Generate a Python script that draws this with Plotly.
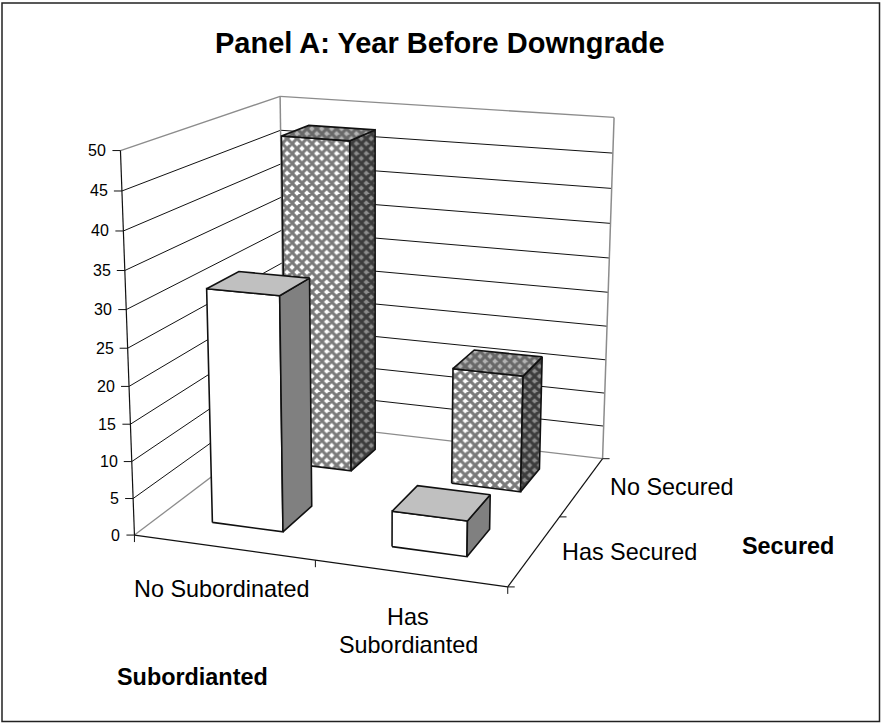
import numpy as np
import plotly.graph_objects as go

# Chart content
title_text = "Panel A: Year Before Downgrade"
subordinated_labels = [["No Subordinated"], ["Has", "Subordianted"]]
secured_labels = ["Has Secured", "No Secured"]
axis_title_x = "Subordianted"
axis_title_y = "Secured"
value_ticks = [0, 5, 10, 15, 20, 25, 30, 35, 40, 45, 50]
has_secured_values = [31.6, 4.8]
no_secured_values = [47.3, 16.7]

VALUE_MAX = 50
BAR_HALF_U = 0.10
BAR_HALF_V = 0.10

# Perspective camera: known box corners (u, v, w) -> canvas pixels
camera_anchors = [
    ((0, 0, 0), (135.0, 534.0)),
    ((1, 0, 0), (507.3, 588.3)),
    ((0, 1, 0), (284.0, 423.0)),
    ((1, 1, 0), (603.0, 457.0)),
    ((0, 0, 1), (120.3, 150.3)),
    ((0, 1, 1), (280.3, 96.0)),
    ((1, 1, 1), (614.0, 118.0)),
]


def solve_camera(anchors):
    rows, rhs = [], []
    for (u, v, w), (px, py) in anchors:
        rows.append([u, v, w, 1, 0, 0, 0, 0, -px * u, -px * v, -px * w])
        rhs.append(px)
        rows.append([0, 0, 0, 0, u, v, w, 1, -py * u, -py * v, -py * w])
        rhs.append(py)
    sol = np.linalg.lstsq(np.array(rows, float), np.array(rhs, float), rcond=None)[0]
    return np.append(sol, 1.0).reshape(3, 4)


CAMERA = solve_camera(camera_anchors)


def project(u, v, value):
    p = CAMERA @ np.array([u, v, value / VALUE_MAX, 1.0])
    return p[0] / p[2], p[1] / p[2]


fig = go.Figure()

BLACK = "#111111"
GREY = "#8c8c8c"


def add_line(a, b, color=BLACK, width=1.0):
    fig.add_trace(go.Scatter(
        x=[a[0], b[0]], y=[a[1], b[1]], mode="lines",
        line=dict(color=color, width=width), hoverinfo="skip", showlegend=False))


def add_face(points, fill, pattern=None):
    xs = [p[0] for p in points] + [points[0][0]]
    ys = [p[1] for p in points] + [points[0][1]]
    kwargs = dict(fillcolor=fill)
    if pattern:
        kwargs["fillpattern"] = pattern
    fig.add_trace(go.Scatter(
        x=xs, y=ys, mode="lines", fill="toself",
        line=dict(color=BLACK, width=1.6), hoverinfo="skip", showlegend=False, **kwargs))


def add_bar(u_c, v_c, value, faces):
    u0, u1 = u_c - BAR_HALF_U, u_c + BAR_HALF_U
    v0, v1 = v_c - BAR_HALF_V, v_c + BAR_HALF_V
    front = [project(u0, v0, 0), project(u1, v0, 0), project(u1, v0, value), project(u0, v0, value)]
    side = [project(u1, v0, 0), project(u1, v1, 0), project(u1, v1, value), project(u1, v0, value)]
    top = [project(u0, v0, value), project(u1, v0, value), project(u1, v1, value), project(u0, v1, value)]
    for pts, style in zip((front, side, top), faces):
        add_face(pts, *style)


# Walls: value gridlines on left and back planes
for t in value_ticks:
    edge = t == 0 or t == VALUE_MAX
    color = GREY if edge else BLACK
    add_line(project(0, 0, t), project(0, 1, t), color, 1.3 if edge else 1.0)
    add_line(project(0, 1, t), project(1, 1, t), color, 1.3 if edge else 1.0)
add_line(project(0, 1, 0), project(0, 1, VALUE_MAX), GREY, 1.5)
add_line(project(1, 1, 0), project(1, 1, VALUE_MAX), GREY, 1.5)

# Axis lines and ticks
add_line(project(0, 0, 0), project(0, 0, VALUE_MAX), BLACK, 1.2)
add_line(project(0, 0, 0), project(1, 0, 0), BLACK, 1.2)
add_line(project(1, 0, 0), project(1, 1, 0), BLACK, 1.2)
for t in value_ticks:
    px, py = project(0, 0, t)
    add_line((px - 8, py), (px, py), BLACK, 1.0)
for u in (0, 0.5, 1):
    px, py = project(u, 0, 0)
    add_line((px, py), (px, py + 7), BLACK, 1.0)
for v in (0, 0.5, 1):
    px, py = project(1, v, 0)
    add_line((px, py), (px + 7, py), BLACK, 1.0)

# Bars, back row first so the front row overlaps it
cross = lambda fg, bg: dict(shape="x", size=7, solidity=0.68, fgcolor=fg, bgcolor=bg, fillmode="replace")
hatched_faces = (
    ("#ffffff", cross("#7a7a7a", "#ffffff")),
    ("#808080", cross("#3c3c3c", "#8c8c8c")),
    ("#c0c0c0", cross("#686868", "#b4b4b4")),
)
plain_faces = (("#ffffff",), ("#808080",), ("#c0c0c0",))
for i, value in enumerate(no_secured_values):
    add_bar(0.25 + 0.5 * i, 0.75, value, hatched_faces)
for i, value in enumerate(has_secured_values):
    add_bar(0.25 + 0.5 * i, 0.25, value, plain_faces)

FONT = "Liberation Sans, Arial, sans-serif"
LABEL_SIZE = 23.4
annotations = [dict(x=440, y=43, text=f"<b>{title_text}</b>", font=dict(size=29))]
for t in value_ticks:
    px, py = project(0, 0, t)
    annotations.append(dict(x=px - 12, y=py, text=str(t), xanchor="right", font=dict(size=16)))
annotations += [
    dict(x=222, y=589, text=subordinated_labels[0][0], font=dict(size=LABEL_SIZE)),
    dict(x=408, y=617, text=subordinated_labels[1][0], font=dict(size=LABEL_SIZE)),
    dict(x=408, y=645, text=subordinated_labels[1][1], font=dict(size=LABEL_SIZE)),
    dict(x=629, y=552, text=secured_labels[0], font=dict(size=LABEL_SIZE)),
    dict(x=672, y=487, text=secured_labels[1], font=dict(size=LABEL_SIZE)),
    dict(x=192, y=677, text=f"<b>{axis_title_x}</b>", font=dict(size=LABEL_SIZE)),
    dict(x=788, y=546, text=f"<b>{axis_title_y}</b>", font=dict(size=LABEL_SIZE)),
]
for a in annotations:
    a.update(xref="x", yref="y", showarrow=False, yanchor="middle")
    a.setdefault("xanchor", "center")
    a["font"].update(family=FONT, color="#000000")

fig.update_layout(
    width=881, height=723, margin=dict(l=0, r=0, t=0, b=0),
    paper_bgcolor="white", plot_bgcolor="white", showlegend=False,
    xaxis=dict(range=[0, 881], visible=False, fixedrange=True),
    yaxis=dict(range=[723, 0], visible=False, fixedrange=True),
    annotations=annotations,
    shapes=[dict(type="rect", xref="x", yref="y", x0=2, y0=3, x1=879.5, y1=721.5,
                 line=dict(color="#222222", width=1.5), layer="below")],
)
fig.write_html("out.html", config=dict(displayModeBar=False))
